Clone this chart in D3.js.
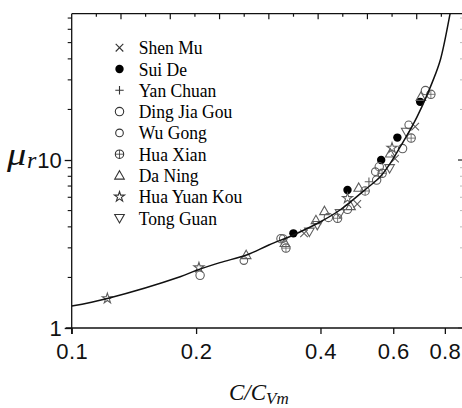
<!DOCTYPE html>
<html>
<head>
<meta charset="utf-8">
<script src="https://cdn.jsdelivr.net/npm/d3@7"></script>
<style>
  html, body { margin: 0; padding: 0; background: #fff; }
  svg { display: block; }
</style>
</head>
<body>
<svg id="chart" width="462" height="408"></svg>
<script>
// Relative viscosity vs. normalised concentration for loess-region sediments

const SANS = '"Liberation Sans", Arial, sans-serif';
const SERIF = '"Times New Roman", Times, serif';

const seriesNames = ["Shen Mu", "Sui De", "Yan Chuan", "Ding Jia Gou", "Wu Gong",
                     "Hua Xian", "Da Ning", "Hua Yuan Kou", "Tong Guan"];
const seriesShapes = ["x", "dot", "plus", "circle", "circleSmall",
                      "crossed", "tri", "star", "triDown"];

// C/Cvm values of each station
const shenMuC    = [0.365, 0.491, 0.606, 0.678];
const suiDeC     = [0.344, 0.465, 0.561, 0.614, 0.697];
const yanChuanC  = [0.524];
const dingJiaC   = [0.2045, 0.321, 0.418, 0.465, 0.547, 0.555, 0.632, 0.718];
const wuGongC    = [0.261, 0.325, 0.543, 0.654];
const huaXianC   = [0.330, 0.440, 0.513, 0.564, 0.663, 0.740];
const daNingC    = [0.2644, 0.328, 0.390, 0.409, 0.473, 0.495, 0.590, 0.700];
const huaYuanC   = [0.122, 0.2032, 0.465, 0.596];
const tongGuanC  = [0.376, 0.393, 0.446, 0.588, 0.645];

// measured relative viscosity μr
const shenMuMu   = [3.66, 5.47, 10.2, 15.8];
const suiDeMu    = [3.66, 6.63, 10.0, 13.6, 22.2];
const yanChuanMu = [7.43];
const dingJiaMu  = [2.06, 3.40, 4.55, 5.09, 7.60, 9.12, 11.7, 25.9];
const wuGongMu   = [2.52, 3.41, 8.52, 16.2];
const huaXianMu  = [2.99, 4.50, 6.54, 8.33, 13.5, 24.6];
const daNingMu   = [2.72, 3.21, 4.39, 4.97, 5.32, 6.84, 10.96, 23.8];
const huaYuanMu  = [1.50, 2.29, 5.92, 11.8];
const tongGuanMu = [3.74, 4.10, 4.82, 8.93, 14.7];

// fitted relation
const fitC  = [0.1, 0.122, 0.183, 0.2, 0.2284, 0.265, 0.3, 0.344, 0.4, 0.446, 0.518,
               0.558, 0.590, 0.624, 0.666, 0.704, 0.744, 0.780, 0.824, 0.84];
const fitMu = [1.35, 1.50, 2.02, 2.2, 2.45, 2.72, 3.12, 3.58, 4.29, 5.04, 6.79,
               7.95, 9.55, 12.0, 15.8, 20.8, 28.6, 39.4, 74.7, 95];

// tick labels
const xTickValues = [0.1, 0.2, 0.4, 0.6, 0.8];
const xTickLabels = ["0.1", "0.2", "0.4", "0.6", "0.8"];
const yTickValues = [1, 10];
const yTickLabels = ["1", "10"];

const seriesC  = [shenMuC, suiDeC, yanChuanC, dingJiaC, wuGongC, huaXianC, daNingC, huaYuanC, tongGuanC];
const seriesMu = [shenMuMu, suiDeMu, yanChuanMu, dingJiaMu, wuGongMu, huaXianMu, daNingMu, huaYuanMu, tongGuanMu];

const svg = d3.select("#chart");
const plotLeft = 71.7, plotRight = 466, plotTop = 13.7, plotBottom = 328;

const x = d3.scaleLog().domain([0.1, 0.9]).range([plotLeft, plotRight]);
const y = d3.scaleLog().domain([1, 74.3]).range([plotBottom, plotTop]);
const xTop = d3.scaleLinear().domain([0.1, 0.9]).range([plotLeft, plotRight]);

svg.append("defs").append("clipPath").attr("id", "plotClip")
  .append("rect").attr("x", plotLeft).attr("y", plotTop)
  .attr("width", plotRight - plotLeft).attr("height", plotBottom - plotTop);

// marker glyphs
function marker(g, shape, color) {
  const sw = 1.1;
  switch (shape) {
    case "x":
      g.append("path").attr("d", "M-3.8,-3.8L3.8,3.8M-3.8,3.8L3.8,-3.8")
        .attr("stroke", color).attr("stroke-width", sw).attr("fill", "none");
      break;
    case "dot":
      g.append("circle").attr("r", 4.2).attr("fill", "#000");
      break;
    case "plus":
      g.append("path").attr("d", "M-4.2,0H4.2M0,-4.2V4.2")
        .attr("stroke", color).attr("stroke-width", sw).attr("fill", "none");
      break;
    case "circle":
      g.append("circle").attr("r", 4.2).attr("fill", "none")
        .attr("stroke", color).attr("stroke-width", sw);
      break;
    case "circleSmall":
      g.append("circle").attr("r", 3.8).attr("fill", "none")
        .attr("stroke", color).attr("stroke-width", sw);
      break;
    case "crossed":
      g.append("circle").attr("r", 4.2).attr("fill", "none")
        .attr("stroke", color).attr("stroke-width", sw);
      g.append("path").attr("d", "M-4.2,0H4.2M0,-4.2V4.2")
        .attr("stroke", color).attr("stroke-width", 0.8).attr("fill", "none");
      break;
    case "tri":
      g.append("path").attr("d", "M0,-4.8L4.8,3.6L-4.8,3.6Z")
        .attr("stroke", color).attr("stroke-width", sw).attr("fill", "none");
      break;
    case "triDown":
      g.append("path").attr("d", "M0,4.8L4.8,-3.6L-4.8,-3.6Z")
        .attr("stroke", color).attr("stroke-width", sw).attr("fill", "none");
      break;
    case "star":
      g.append("path").attr("d", d3.symbol(d3.symbolStar, 32)())
        .attr("stroke", color).attr("stroke-width", sw).attr("fill", "none");
      break;
  }
}

// data markers
const pts = svg.append("g").attr("clip-path", "url(#plotClip)");
seriesNames.forEach((name, i) => {
  seriesC[i].forEach((c, j) => {
    const g = pts.append("g")
      .attr("transform", `translate(${x(c)},${y(seriesMu[i][j])})`);
    marker(g, seriesShapes[i], "#5e5e5e");
  });
});

// fitted curve
const fitData = fitC.map((c, i) => [c, fitMu[i]]);
svg.append("path")
  .datum(fitData)
  .attr("clip-path", "url(#plotClip)")
  .attr("fill", "none")
  .attr("stroke", "#111")
  .attr("stroke-width", 1.5)
  .attr("d", d3.line().x(d => x(d[0])).y(d => y(d[1])).curve(d3.curveCatmullRom.alpha(0.5)));

// frame
const axisColor = "#111";
svg.append("line").attr("x1", plotLeft).attr("x2", plotLeft).attr("y1", plotTop).attr("y2", plotBottom + 6)
  .attr("stroke", axisColor).attr("stroke-width", 1.3);
svg.append("line").attr("x1", plotLeft - 6).attr("x2", plotRight).attr("y1", plotBottom).attr("y2", plotBottom)
  .attr("stroke", axisColor).attr("stroke-width", 1.3);
svg.append("line").attr("x1", plotLeft).attr("x2", plotRight).attr("y1", plotTop).attr("y2", plotTop)
  .attr("stroke", axisColor).attr("stroke-width", 1.3);
svg.append("line").attr("x1", plotRight).attr("x2", plotRight).attr("y1", plotTop).attr("y2", plotBottom)
  .attr("stroke", axisColor).attr("stroke-width", 1.3);

// bottom axis
const xAxis = d3.axisBottom(x).tickValues(xTickValues)
  .tickFormat((d, i) => xTickLabels[i]).tickSizeInner(6).tickSizeOuter(0).tickPadding(9);
const gx = svg.append("g").attr("transform", `translate(0,${plotBottom})`).call(xAxis);
gx.attr("font-family", null).attr("font-size", null);
gx.select(".domain").remove();
gx.selectAll("line").attr("stroke", axisColor).attr("stroke-width", 1.3);
gx.selectAll("text").style("font-family", SANS)
  .attr("font-size", 22).attr("fill", "#111").attr("letter-spacing", "0.4px");

// top axis (linear ticks, inward)
const topTicks = d3.range(0.15, 0.9001, 0.05);
svg.append("g").selectAll("line").data(topTicks).join("line")
  .attr("x1", d => xTop(d)).attr("x2", d => xTop(d))
  .attr("y1", plotTop).attr("y2", (d, i) => plotTop + (i % 2 === 1 ? 5.5 : 3))
  .attr("stroke", axisColor).attr("stroke-width", 1.2);

// left axis
const yMinor = [2, 3, 4, 5, 6, 7, 8, 9, 20, 30, 40, 50, 60, 70];
const yAxis = d3.axisLeft(y).tickValues(yTickValues)
  .tickFormat((d, i) => yTickLabels[i]).tickSizeInner(7).tickSizeOuter(0).tickPadding(3);
const gy = svg.append("g").attr("transform", `translate(${plotLeft},0)`).call(yAxis);
gy.attr("font-family", null).attr("font-size", null);
gy.select(".domain").remove();
gy.selectAll("line").attr("stroke", axisColor).attr("stroke-width", 1.3);
gy.selectAll("text").style("font-family", SANS)
  .attr("font-size", 22).attr("fill", "#111");
svg.append("g").selectAll("line").data(yMinor).join("line")
  .attr("x1", plotLeft - 4).attr("x2", plotLeft)
  .attr("y1", d => y(d)).attr("y2", d => y(d))
  .attr("stroke", axisColor).attr("stroke-width", 1.1);

// right axis (inward ticks)
svg.append("g").selectAll("line").data(yMinor).join("line")
  .attr("x1", plotRight - 6).attr("x2", plotRight)
  .attr("y1", d => y(d)).attr("y2", d => y(d))
  .attr("stroke", "#bbb").attr("stroke-width", 1);
svg.append("g").selectAll("line").data(yTickValues).join("line")
  .attr("x1", plotRight - 8).attr("x2", plotRight)
  .attr("y1", d => y(d)).attr("y2", d => y(d))
  .attr("stroke", "#333").attr("stroke-width", 1.3);

// axis titles
svg.append("text")
  .style("font-family", SERIF).style("font-style", "italic")
  .attr("transform", "translate(7,165) scale(1.2,1)")
  .attr("font-size", 32).attr("fill", "#111")
  .text("μ");
svg.append("text")
  .style("font-family", SERIF).style("font-style", "italic")
  .attr("x", 27).attr("y", 168)
  .attr("font-size", 24).attr("fill", "#111")
  .text("r");

const xTitle = svg.append("text")
  .style("font-family", SERIF).style("font-style", "italic")
  .attr("x", 229).attr("y", 400)
  .attr("fill", "#111");
xTitle.append("tspan").attr("font-size", 23).text("C/C");
xTitle.append("tspan").attr("font-size", 17).attr("dy", 4).text("Vm");

// legend
const legend = svg.append("g");
seriesNames.forEach((name, i) => {
  const cy = 47.7 + i * 21.3;
  const g = legend.append("g").attr("transform", `translate(119.5,${cy})`);
  marker(g, seriesShapes[i], "#333");
  legend.append("text")
    .style("font-family", SERIF)
    .attr("transform", `translate(138.7,${cy + 6.5}) scale(0.9,1)`)
    .attr("font-size", 19.5).attr("fill", "#000")
    .text(name);
});
</script>
</body>
</html>
